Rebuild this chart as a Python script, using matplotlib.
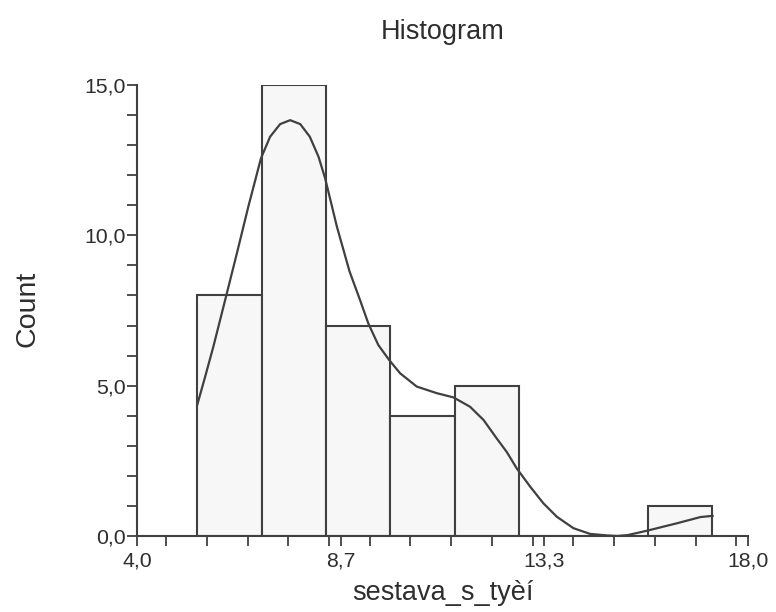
import numpy as np
import matplotlib
matplotlib.use("Agg")
import matplotlib.pyplot as plt
from matplotlib.ticker import FixedLocator, MultipleLocator

# histogram bins
bin_start = 5.38
bin_width = 1.475
counts = [8, 15, 7, 4, 5, 0, 0, 1]

# density curve (x, count)
curve_x = [5.38, 5.56, 5.75, 6.02, 6.29, 6.55, 6.84, 7.05, 7.28, 7.51, 7.74,
           7.96, 8.16, 8.31, 8.58, 8.87, 9.11, 9.30, 9.53, 9.78, 10.03, 10.41,
           10.87, 11.25, 11.63, 11.94, 12.24, 12.47, 12.70, 13.01, 13.31,
           13.62, 14.00, 14.38, 14.76, 15.00, 15.24, 15.67, 16.39, 16.91, 17.19]
curve_y = [4.36, 5.29, 6.30, 7.85, 9.41, 10.95, 12.56, 13.28, 13.70, 13.83, 13.70,
           13.28, 12.61, 11.90, 10.29, 8.80, 7.85, 7.07, 6.35, 5.85, 5.41, 4.97,
           4.75, 4.61, 4.30, 3.86, 3.25, 2.80, 2.25, 1.64, 1.09,
           0.64, 0.26, 0.07, 0.02, 0.00, 0.03, 0.17, 0.43, 0.63, 0.67]

x_ticks = [4.0, 4.0 + 14 / 3, 4.0 + 28 / 3, 18.0]
x_labels = ["4,0", "8,7", "13,3", "18,0"]
y_ticks = [0, 5, 10, 15]
y_labels = ["0,0", "5,0", "10,0", "15,0"]

plt.rcParams['font.family'] = ['Liberation Sans', 'DejaVu Sans']
txt = '#2e2e2e'
line = '#404040'

fig = plt.figure(figsize=(7.76, 6.12), dpi=100)
ax = fig.add_axes([137 / 776, 1 - 536 / 612, 611 / 776, 451 / 612])

lefts = [bin_start + i * bin_width for i in range(len(counts))]
ax.bar(lefts, counts, width=bin_width, align='edge', color='#f7f7f7',
       edgecolor=line, linewidth=1.5, zorder=2)
ax.plot(curve_x, curve_y, color=line, linewidth=1.6, zorder=3,
        solid_joinstyle='round')

ax.set_xlim(4.0, 18.0)
ax.set_ylim(0, 15)

for s in ['top', 'right']:
    ax.spines[s].set_visible(False)
for s in ['left', 'bottom']:
    ax.spines[s].set_color(line)
    ax.spines[s].set_linewidth(1.5)

ax.xaxis.set_major_locator(FixedLocator(x_ticks))
ax.xaxis.set_minor_locator(MultipleLocator(14 / 15))
ax.set_xticklabels(x_labels)
ax.yaxis.set_major_locator(FixedLocator(y_ticks))
ax.yaxis.set_minor_locator(MultipleLocator(1))
ax.set_yticklabels(y_labels)

ax.tick_params(which='both', direction='out', length=7, width=1.3,
               color=line, labelcolor=txt, labelsize=15.3)
ax.tick_params(axis='x', pad=4)
ax.tick_params(axis='y', pad=1)

ax.set_xlabel('sestava_s_tyèí', fontsize=19.5, color=txt, labelpad=7)
fig.text(27 / 776, 1 - 309 / 612, 'Count', fontsize=20.5, color=txt,
         rotation=90, ha='center', va='center')
fig.text(443 / 776, 1 - 32 / 612, 'Histogram', fontsize=19.5, color=txt,
         ha='center', va='center')

fig.savefig('out.png', dpi=100)
